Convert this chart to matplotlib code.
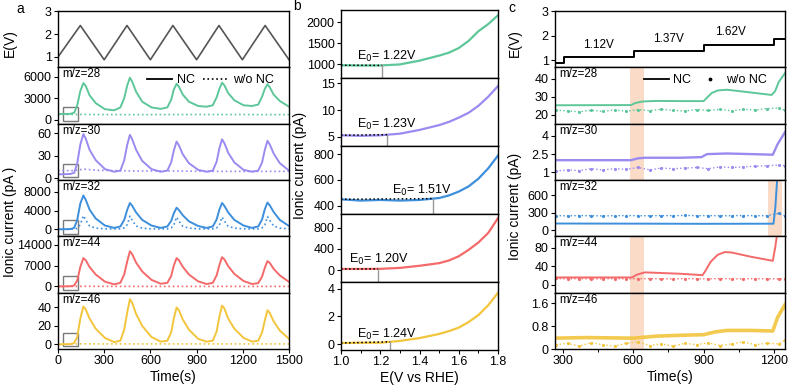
import numpy as np
import matplotlib
matplotlib.use('Agg')
import matplotlib.pyplot as plt
from matplotlib.lines import Line2D
from matplotlib.ticker import FuncFormatter, MultipleLocator
import matplotlib.transforms as mtransforms

plt.rcParams['font.family'] = ['Liberation Sans', 'DejaVu Sans']
plt.rcParams['font.size'] = 9
plt.rcParams['axes.linewidth'] = 1.0

# colours per m/z
colors = ['#5ec79a', '#9b8af0', '#3d8fdc', '#f46a6a', '#f2c53d']
mz_labels = ['m/z=28', 'm/z=30', 'm/z=32', 'm/z=44', 'm/z=46']

# ---------------- panel a : CV cycling ----------------
t_tri = [0, 145, 300, 448, 600, 746, 900, 1045, 1197, 1345, 1500]
E_tri = [1.0, 2.37, 0.88, 2.37, 0.88, 2.37, 0.88, 2.37, 0.88, 2.37, 0.88]

t_a = [0, 80, 105, 125, 145, 165, 180, 205, 245, 305, 365,
       405, 430, 450, 467, 482, 507, 547, 607, 667,
       710, 735, 752, 770, 785, 810, 850, 910, 965,
       1005, 1030, 1048, 1065, 1080, 1105, 1145, 1205, 1260,
       1300, 1325, 1343, 1360, 1375, 1400, 1440, 1500]
nc28 = [780, 800, 950, 2000, 4000, 5100, 4700, 3400, 2300, 1450, 1300,
        1700, 3000, 4800, 5850, 5300, 3900, 2500, 1700, 1500,
        1700, 2800, 4200, 5000, 4600, 3500, 2500, 1900, 1800,
        2000, 3100, 4300, 5150, 4800, 3700, 2700, 2000, 1900,
        2100, 3200, 4300, 4950, 4500, 3500, 2600, 1800]
nc30 = [5, 5.5, 7, 20, 45, 59, 53, 38, 24, 12, 8.5,
        10, 24, 45, 58, 52, 38, 23, 12, 8.5,
        10, 21, 37, 49, 44, 32, 20, 11, 8.5,
        10, 22, 40, 52, 47, 34, 21, 11, 8.5,
        10, 21, 38, 50, 45, 33, 20, 10]
nc32 = [0, 50, 300, 2000, 5500, 7200, 6300, 4200, 2300, 800, 300,
        600, 2000, 4200, 5600, 5000, 3600, 2000, 800, 300,
        600, 1800, 3400, 4600, 4100, 3000, 1700, 700, 300,
        600, 2100, 4200, 5600, 5000, 3600, 2000, 800, 300,
        600, 2100, 4300, 5700, 5100, 3700, 2000, 700]
nc44 = [0, 50, 300, 2000, 6500, 9500, 8800, 6500, 4000, 1600, 700,
        1200, 4000, 8500, 11800, 10800, 8000, 5000, 2200, 900,
        1200, 3500, 7000, 9500, 8800, 6600, 4000, 1700, 800,
        1200, 3700, 7200, 9800, 9100, 6800, 4200, 1800, 800,
        1100, 3300, 6300, 8500, 7900, 5900, 3700, 1500]
nc46 = [0, 0.3, 1.5, 8, 28, 41, 38, 28, 17, 7, 2.5,
        4, 16, 35, 49, 45, 33, 20, 8, 3,
        4, 13, 28, 40, 37, 27, 16, 6, 3,
        4, 14, 30, 42, 39, 28, 17, 7, 3,
        4, 13, 26, 37, 34, 25, 15, 6]
wo32 = [0, 0, 50, 200, 1000, 2900, 2000, 700, 250, 100, 80,
        100, 300, 1000, 2800, 1900, 700, 250, 100, 80,
        100, 300, 900, 2600, 1800, 650, 250, 100, 80,
        100, 300, 900, 2600, 1800, 650, 250, 100, 80,
        100, 300, 950, 2700, 1900, 700, 250, 100]
t_flat = [0, 100, 170, 250, 500, 750, 1000, 1250, 1500]
wo28 = [720, 710, 730, 700, 690, 700, 710, 700, 690]
wo30 = [10, 10, 12, 10.5, 9.5, 9.5, 9, 9, 9]
wo44 = [0, 0, 30, 20, 0, 0, 0, 0, 0]
wo46 = [0.5, 0.5, 0.6, 0.5, 0.5, 0.5, 0.5, 0.5, 0.5]

# ---------------- panel b : onset potentials ----------------
E_b = [1.0, 1.1, 1.2, 1.3, 1.4, 1.5, 1.55, 1.6, 1.65, 1.7, 1.75, 1.8]
b28 = [970, 965, 965, 990, 1080, 1200, 1270, 1380, 1550, 1780, 1950, 2160]
b30 = [5.3, 5.2, 5.3, 5.6, 6.3, 7.2, 7.8, 8.6, 9.5, 10.8, 12.5, 14.5]
b32 = [450, 440, 445, 440, 445, 460, 480, 510, 550, 610, 690, 790]
b44 = [20, 20, 22, 40, 80, 130, 180, 260, 380, 520, 700, 980]
b46 = [0.1, 0.12, 0.12, 0.25, 0.45, 0.75, 0.95, 1.2, 1.6, 2.1, 2.8, 3.7]
e0_label = ['1.22', '1.23', '1.51', '1.20', '1.24']
e0_line = [1.21, 1.235, 1.47, 1.19, 1.25]

# ---------------- panel c : potential steps ----------------
t_step = [266, 305, 604, 900, 1200, 1247]
E_step = [0.9, 1.12, 1.37, 1.62, 1.87, 1.87]
step_names = ['1.12V', '1.37V', '1.62V']

c28_t = [266, 590, 610, 640, 700, 800, 900, 915, 935, 960, 1000, 1100, 1190, 1205, 1220, 1247]
c28_v = [25.2, 25.3, 26.5, 27.3, 27.6, 27.5, 27.5, 29.5, 32, 33.4, 33.8, 32.3, 30.9, 33, 38, 43]
c30_t = [266, 590, 620, 650, 800, 890, 915, 1000, 1100, 1195, 1215, 1247]
c30_v = [2.0, 2.0, 2.15, 2.2, 2.2, 2.25, 2.5, 2.55, 2.5, 2.45, 3.3, 4.3]
c32_t = [266, 600, 900, 1198, 1206, 1214]
c32_v = [115, 113, 110, 112, 400, 900]
c44_t = [266, 595, 615, 650, 700, 800, 895, 905, 930, 960, 990, 1020, 1100, 1195, 1205, 1215]
c44_v = [16, 16, 22, 27, 26, 24, 21, 28, 50, 65, 71, 70, 61, 52, 80, 115]
c46_t = [266, 400, 600, 700, 800, 900, 950, 1000, 1100, 1195, 1215, 1247]
c46_v = [0.38, 0.4, 0.38, 0.45, 0.48, 0.5, 0.6, 0.65, 0.65, 0.63, 1.1, 1.55]

tc_wo = [270, 320, 370, 420, 470, 520, 570, 620, 670, 720, 770, 820, 870,
         920, 970, 1020, 1070, 1120, 1170, 1220, 1245]
wo_c28 = [22.5, 22.0, 21.6, 22.4, 21.8, 22.6, 21.9, 22.8, 22.2, 23.0, 22.4,
          22.0, 22.8, 22.3, 22.9, 22.1, 23.0, 22.6, 23.4, 23.6, 22.5]
wo_c30 = [1.1, 1.2, 1.15, 1.3, 1.2, 1.3, 1.25, 1.4, 1.2, 1.35, 1.3, 1.35,
          1.4, 1.3, 1.45, 1.4, 1.45, 1.5, 1.55, 1.6, 1.55]
wo_c32 = [250, 248, 252, 250, 246, 250, 252, 250, 248, 252, 250, 255, 250,
          252, 248, 250, 252, 250, 250, 290, 250]
wo_c44 = [14, 13, 13.5, 13, 13, 13.5, 13, 13, 13.5, 13, 13, 13.5, 13, 13,
          13.5, 13, 13, 13.5, 13, 13, 13]
wo_c46 = [0.15, 0.2, 0.1, 0.22, 0.15, 0.1, 0.2, 0.25, 0.12, 0.18, 0.1, 0.2,
          0.15, 0.22, 0.12, 0.18, 0.25, 0.15, 0.2, 0.18, 0.3]
band_early = (584, 644)
band_late = (1176, 1236)

fmt = FuncFormatter(lambda v, p: '%g' % v)
LBL = 10

fig = plt.figure(figsize=(7.91, 3.89), dpi=100)
gs_a = fig.add_gridspec(6, 1, left=0.0733, right=0.3654, bottom=0.1028, top=0.9717, hspace=0)
gs_b = fig.add_gridspec(5, 1, left=0.4311, right=0.6296, bottom=0.1003, top=0.9743, hspace=0)
gs_c = fig.add_gridspec(6, 1, left=0.7016, right=0.9924, bottom=0.1028, top=0.9717, hspace=0)


def style(ax, last):
    ax.tick_params(direction='out', length=3, width=0.8, labelsize=9, pad=1.5)
    ax.yaxis.set_major_formatter(fmt)
    if not last:
        ax.tick_params(axis='x', bottom=False, labelbottom=False)


def mz_text(ax, s):
    ax.text(0.02, 0.98, s, transform=ax.transAxes, va='top', ha='left', fontsize=8.3)


# ---- panel a ----
axa = [fig.add_subplot(gs_a[i]) for i in range(6)]
axa[0].plot(t_tri, E_tri, color='#555555', lw=1.2)
axa[0].set_ylim(0.55, 3.0)
axa[0].set_yticks([1, 2, 3])
nc_a = [nc28, nc30, nc32, nc44, nc46]
wo_a = [wo28, wo30, None, wo44, wo46]
ylims_a = [(-570, 7300), (-2.6, 73), (-1500, 10500), (-2100, 16800), (-5, 56)]
yt_a = [[0, 3000, 6000], [0, 30, 60], [0, 4000, 8000], [0, 7000, 14000], [0, 20, 40]]
for i in range(5):
    ax = axa[i + 1]
    ax.plot(t_a, nc_a[i], color=colors[i], lw=1.4)
    if wo_a[i] is None:
        ax.plot(t_a, wo32, color=colors[i], lw=1.2, ls=':')
    else:
        ax.plot(t_flat, wo_a[i], color=colors[i], lw=1.2, ls=':')
    ax.set_ylim(*ylims_a[i])
    ax.set_yticks(yt_a[i])
    mz_text(ax, mz_labels[i])
    trans = mtransforms.blended_transform_factory(ax.transData, ax.transAxes)
    ax.add_patch(plt.Rectangle((30, 0.05), 100, 0.24, transform=trans,
                               fill=False, ec='#7a7a7a', lw=1.0))
for i, ax in enumerate(axa):
    ax.set_xlim(0, 1500)
    style(ax, i == 5)
axa[-1].set_xticks([0, 300, 600, 900, 1200, 1500])
axa[-1].set_xlabel('Time(s)', fontsize=LBL, labelpad=2)
axa[1].legend([Line2D([], [], color='k', lw=1.3), Line2D([], [], color='k', lw=1.2, ls=':')],
              ['NC', 'w/o NC'], ncol=2, loc='upper right', bbox_to_anchor=(0.985, 1.08),
              frameon=False, fontsize=9, handlelength=2.0, columnspacing=0.7,
              handletextpad=0.4)
fig.text(0.013, 0.89, 'E(V)', rotation=90, ha='center', va='center', fontsize=LBL)
fig.text(0.013, 0.43, 'Ionic current (pA )', rotation=90, ha='center', va='center', fontsize=LBL)
fig.text(0.025, 0.978, 'a', ha='center', va='center', fontsize=10)

# ---- panel b ----
axb = [fig.add_subplot(gs_b[i]) for i in range(5)]
b_series = [b28, b30, b32, b44, b46]
ylims_b = [(667, 2286), (3.3, 16), (336, 864), (-226, 1058), (-0.4, 4.47)]
yt_b = [[1000, 1500, 2000], [5, 10, 15], [400, 600, 800], [0, 400, 800], [0, 2, 4]]
e0_pos = [(1.08, 1174), (1.08, 7.3), (1.26, 520), (1.04, 202), (1.08, 0.73)]
for i, ax in enumerate(axb):
    ax.plot(E_b, b_series[i], color=colors[i], lw=1.6)
    ax.set_ylim(*ylims_b[i])
    ax.set_yticks(yt_b[i])
    e0 = e0_line[i]
    v0 = np.interp(e0, E_b, b_series[i])
    ax.plot([E_b[0], e0], [b_series[i][0], v0], color='k', ls=':', lw=1.1)
    ax.plot([e0, e0], [ylims_b[i][0], v0], color='#999999', lw=1.0)
    ax.text(e0_pos[i][0], e0_pos[i][1], 'E$_0$= ' + e0_label[i] + 'V', fontsize=9,
            va='center', ha='left')
    ax.set_xlim(1.0, 1.8)
    style(ax, i == 4)
axb[-1].set_xticks([1.0, 1.2, 1.4, 1.6, 1.8])
axb[-1].xaxis.set_minor_locator(MultipleLocator(0.1))
axb[-1].tick_params(axis='x', which='minor', length=2, width=0.7)
axb[-1].xaxis.set_major_formatter(FuncFormatter(lambda v, p: '%.1f' % v))
axb[-1].set_xlabel('E(V vs RHE)', fontsize=LBL, labelpad=2)
fig.text(0.379, 0.575, 'Ionic current (pA)', rotation=90, ha='center', va='center', fontsize=LBL)
fig.text(0.375, 0.984, 'b', ha='center', va='center', fontsize=10)

# ---- panel c ----
axc = [fig.add_subplot(gs_c[i]) for i in range(6)]
axc[0].plot(t_step, E_step, color='k', lw=1.4, drawstyle='steps-post')
axc[0].set_ylim(0.72, 3.0)
axc[0].set_yticks([1, 2, 3])
for name, tx, ty in zip(step_names, [450, 750, 1015], [1.63, 1.87, 2.15]):
    axc[0].text(tx, ty, name, ha='center', va='center', fontsize=8.5)
c_t = [c28_t, c30_t, c32_t, c44_t, c46_t]
c_v = [c28_v, c30_v, c32_v, c44_v, c46_v]
wo_c = [wo_c28, wo_c30, wo_c32, wo_c44, wo_c46]
ylims_c = [(15, 46.2), (0.37, 5.0), (-106, 865), (-17, 105), (0, 1.97)]
yt_c = [[20, 30, 40], [1, 2.5, 4], [0, 300, 600], [0, 40, 80], [0, 0.8, 1.6]]
for i in range(5):
    ax = axc[i + 1]
    band = band_late if i == 2 else band_early
    ax.axvspan(band[0], band[1], color='#f9cfb5', alpha=0.75, lw=0, zorder=0)
    lw = 2.6 if i == 4 else (1.7 if i == 1 else 1.4)
    ax.plot(c_t[i], c_v[i], color=colors[i], lw=lw, alpha=0.9 if i == 4 else 1.0)
    ax.plot(tc_wo, wo_c[i], color=colors[i], lw=1.0, ls=':', marker='.', ms=2.5)
    ax.set_ylim(*ylims_c[i])
    ax.set_yticks(yt_c[i])
    mz_text(ax, mz_labels[i])
for i, ax in enumerate(axc):
    ax.set_xlim(266, 1247)
    style(ax, i == 5)
axc[-1].set_xticks([300, 600, 900, 1200])
axc[-1].xaxis.set_minor_locator(MultipleLocator(150))
axc[-1].tick_params(axis='x', which='minor', length=2, width=0.7)
axc[-1].set_xlabel('Time(s)', fontsize=LBL, labelpad=2)
axc[1].legend([Line2D([], [], color='k', lw=1.3),
               Line2D([], [], color='k', ls='none', marker='.', ms=3.5)],
              ['NC', 'w/o NC'], ncol=2, loc='upper right', bbox_to_anchor=(0.97, 1.08),
              frameon=False, fontsize=9, handlelength=2.0, columnspacing=0.5,
              handletextpad=0.3)
fig.text(0.651, 0.89, 'E(V)', rotation=90, ha='center', va='center', fontsize=LBL)
fig.text(0.651, 0.47, 'Ionic current (pA)', rotation=90, ha='center', va='center', fontsize=LBL)
fig.text(0.647, 0.979, 'c', ha='center', va='center', fontsize=10)

fig.savefig('out.png', dpi=100)
